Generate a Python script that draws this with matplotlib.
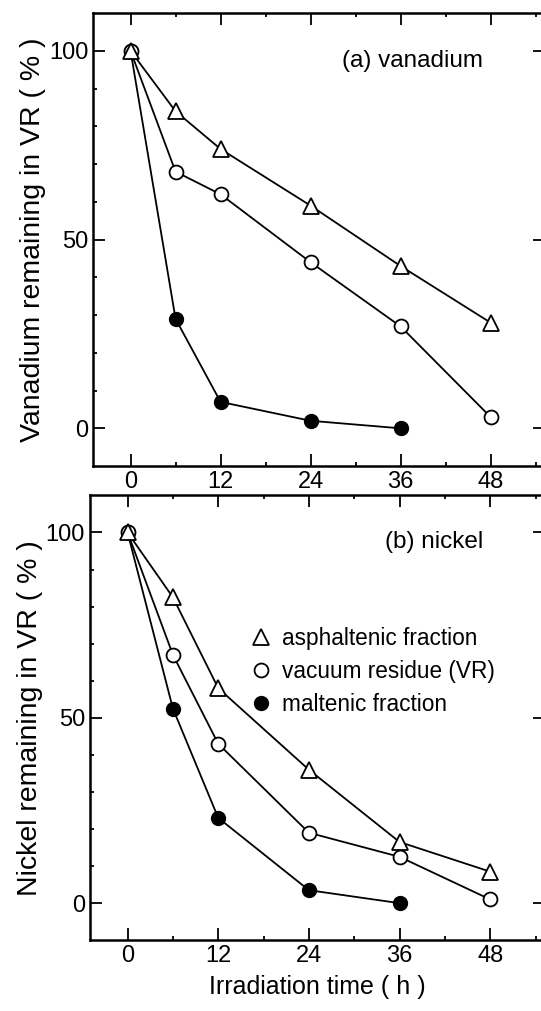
# Vanadium and nickel remaining in VR vs irradiation time (two panels)

import matplotlib.pyplot as plt
import numpy as np

plt.rcParams['font.family'] = ['Liberation Sans', 'DejaVu Sans']

tiempo = [0, 6, 12, 24, 36, 48]
tiempo_malt = [0, 6, 12, 24, 36]

# (a) vanadium
v_asfalt = [100, 84, 74, 59, 43, 28]
v_vr = [100, 68, 62, 44, 27, 3]
v_malt = [100, 29, 7, 2, 0]

# (b) nickel
n_asfalt = [100, 82.5, 58, 36, 16.5, 8.5]
n_vr = [100, 67, 43, 19, 12.5, 1]
n_malt = [100, 52.5, 23, 3.5, 0]

etiquetas = ['asphaltenic fraction', 'vacuum residue (VR)', 'maltenic fraction']
xticks = [0, 12, 24, 36, 48]
yticks = [0, 50, 100]


def graficar(ax, asfalt, vr, malt, ylabel, titulo):
    # se dibuja primero la fracción malténica para que el triángulo quede encima en t=0
    l3, = ax.plot(tiempo_malt, malt, color='black', lw=1.3, marker='o', ms=10,
                  mfc='black', mec='black', label=etiquetas[2], zorder=3)
    l2, = ax.plot(tiempo, vr, color='black', lw=1.3, marker='o', ms=10,
                  mfc='white', mec='black', mew=1.3, label=etiquetas[1], zorder=4)
    l1, = ax.plot(tiempo, asfalt, color='black', lw=1.3, marker='^', ms=12,
                  mfc='white', mec='black', mew=1.3, label=etiquetas[0], zorder=5)
    ax.set_xlim(-5, 55.3)
    ax.set_ylim(-10, 110)
    ax.set_xticks(xticks)
    ax.set_xticks(np.arange(0, 55, 6), minor=True)
    ax.set_yticks(yticks)
    ax.set_yticks(np.arange(0, 101, 10), minor=True)
    ax.tick_params(which='both', direction='in', top=True, right=True,
                   labelsize=17, width=1.3)
    ax.tick_params(which='major', length=8.5)
    ax.tick_params(which='minor', length=3)
    ax.set_ylabel(ylabel, fontsize=20.5, labelpad=2)
    ax.text(0.863, 0.895, titulo, transform=ax.transAxes, fontsize=17.5,
            ha='right', va='center')
    for s in ax.spines.values():
        s.set_linewidth(1.8)
    return [l1, l2, l3]


fig = plt.figure(figsize=(5.41, 10.11), dpi=100)
ax1 = fig.add_axes([0.172, 0.539, 0.836, 0.448])
ax2 = fig.add_axes([0.166, 0.070, 0.842, 0.440])

graficar(ax1, v_asfalt, v_vr, v_malt, 'Vanadium remaining in VR ( % )', '(a) vanadium')
lineas = graficar(ax2, n_asfalt, n_vr, n_malt, 'Nickel remaining in VR ( % )', '(b) nickel')

ax2.set_xlabel('Irradiation time ( h )', fontsize=18, labelpad=6)
leyenda = ax2.legend(handles=lineas, loc='upper left', bbox_to_anchor=(0.335, 0.725),
                     frameon=False, fontsize=16.3, handlelength=0.8, handletextpad=0.55,
                     labelspacing=0.45, borderaxespad=0)
# en la leyenda solo van los marcadores, sin línea
for linea in leyenda.get_lines():
    linea.set_linestyle('None')

fig.savefig('out.png', dpi=100)
